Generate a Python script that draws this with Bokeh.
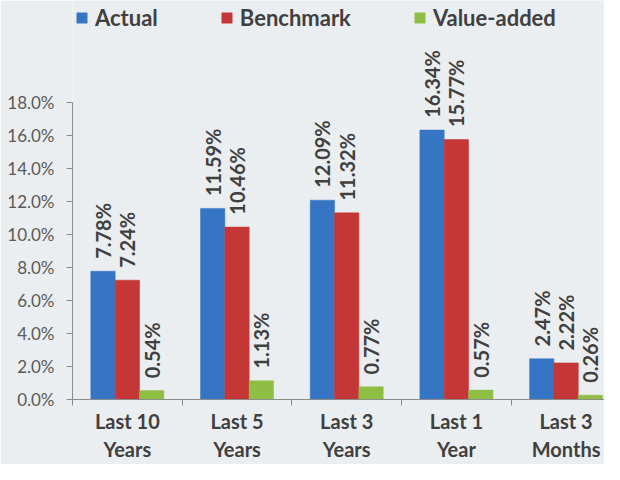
import math
from bokeh.plotting import figure
from bokeh.models import (ColumnDataSource, FixedTicker, PrintfTickFormatter, Range1d,
                          Legend, LegendItem)
from bokeh.core.properties import value
from bokeh.embed import file_html
from bokeh.resources import INLINE

categories = ["Last 10\nYears", "Last 5\nYears", "Last 3\nYears", "Last 1\nYear", "Last 3\nMonths"]
actual = [7.78, 11.59, 12.09, 16.34, 2.47]
benchmark = [7.24, 10.46, 11.32, 15.77, 2.22]
value_added = [0.54, 1.13, 0.77, 0.57, 0.26]
series_names = ["Actual", "Benchmark", "Value-added"]
y_ticks = [0, 2, 4, 6, 8, 10, 12, 14, 16, 18]

BG = "#EBEEF0"
colors = ["#3675C4", "#C53737", "#8FBE44"]
FONT = "Lato"

p = figure(width=604, height=464, output_backend="svg", toolbar_location=None,
           x_range=Range1d(0, 4.85), y_range=Range1d(0, 24.2),
           min_border_left=72, min_border_right=0, min_border_top=0, min_border_bottom=0)
p.background_fill_color = BG
p.border_fill_color = BG
p.outline_line_color = None
p.xgrid.visible = False
p.ygrid.visible = False

bw = 0.222
centers = [i + 0.5 for i in range(len(categories))]
renderers = []
for k, (vals, col) in enumerate(zip([actual, benchmark, value_added], colors)):
    xs = [c + (k - 1) * bw for c in centers]
    src = ColumnDataSource(dict(x=xs, top=vals,
                                ylab=[v + 0.75 for v in vals],
                                lab=["%.2f%%" % v for v in vals]))
    r = p.vbar(x="x", top="top", width=bw, bottom=0, source=src,
               fill_color=col, line_color=col, line_width=0.5)
    renderers.append(r)
    p.text(x="x", y="ylab", text="lab", source=src, angle=math.pi / 2,
           text_align="left", text_baseline="middle",
           text_font=value(FONT), text_font_style="bold",
           text_font_size="20px", text_color="#404040")

# y axis
yax = p.yaxis[0]
yax.ticker = FixedTicker(ticks=y_ticks)
yax.bounds = (0, 18)
yax.formatter = PrintfTickFormatter(format="%.1f%%")
yax.major_label_text_font = FONT
yax.major_label_text_font_size = "17px"
yax.major_label_text_color = "#595959"
yax.axis_line_color = "#8C8C8C"
yax.major_tick_line_color = "#8C8C8C"
yax.major_tick_in = 0
yax.major_tick_out = 6
yax.minor_tick_line_color = None
yax.major_label_standoff = 12

# x axis
xax = p.xaxis[0]
xax.ticker = FixedTicker(ticks=centers, minor_ticks=list(range(len(categories) + 1)))
xax.major_label_overrides = {c: lab for c, lab in zip(centers, categories)}
xax.major_tick_line_color = None
xax.minor_tick_line_color = "#8C8C8C"
xax.minor_tick_in = 0
xax.minor_tick_out = 6
xax.axis_line_color = "#8C8C8C"
xax.major_label_text_font = FONT
xax.major_label_text_font_style = "bold"
xax.major_label_text_font_size = "20px"
xax.major_label_text_color = "#404040"
xax.major_label_standoff = 3

legend = Legend(items=[LegendItem(label=n, renderers=[r]) for n, r in zip(series_names, renderers)],
                orientation="horizontal", location=(3, 368),
                glyph_width=13, glyph_height=13, label_standoff=7, spacing=62,
                padding=0, margin=0, background_fill_alpha=0, border_line_alpha=0,
                label_text_font=FONT, label_text_font_style="bold",
                label_text_font_size="22px", label_text_color="#404040")
p.add_layout(legend, "center")

open("out.html", "w").write(file_html(p, INLINE))
